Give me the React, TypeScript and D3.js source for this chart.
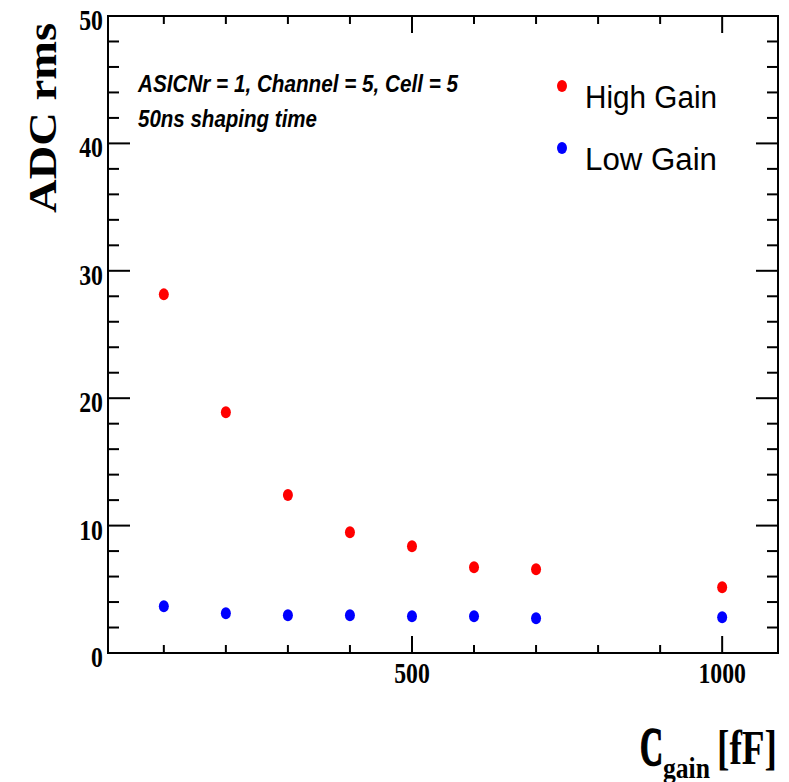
import React, { useRef, useEffect } from 'react';
import * as d3 from 'd3';

const capacitance = [100, 200, 300, 400, 500, 600, 700, 1000];
const highGainRms = [28.15, 18.9, 12.4, 9.47, 8.37, 6.73, 6.57, 5.16];
const lowGainRms = [3.67, 3.12, 2.96, 2.96, 2.88, 2.88, 2.72, 2.8];
const xMajorTicks = [500, 1000];
const xMinorTicks = [100, 200, 300, 400, 500, 600, 700, 800, 900, 1000];
const yMajorTicks = [0, 10, 20, 30, 40, 50];
const yMinorTicks = d3.range(0, 51, 2);
const legendItems = [
    { label: 'High Gain', color: '#ff0000' },
    { label: 'Low Gain', color: '#0000ff' },
];

const App = () => {
    const svgRef = useRef(null);

    useEffect(() => {
        drawChart();
    }, []);

    const drawChart = () => {
        const svg = d3.select(svgRef.current);
        svg.selectAll('*').remove();

        const left = 108, right = 778, top = 16, bottom = 653;

        const x = d3.scaleLinear().domain([10, 1090]).range([left, right]);
        const y = d3.scaleLinear().domain([0, 50]).range([bottom, top]);

        const serif = '"Liberation Serif", "Times New Roman", serif';
        const sans = '"Liberation Sans", Arial, sans-serif';

        const g = svg.append('g');

        // ticks on all four sides, like ROOT
        const tick = (x1, y1, x2, y2) => g.append('line')
            .attr('x1', x1).attr('y1', y1).attr('x2', x2).attr('y2', y2)
            .attr('stroke', '#000').attr('stroke-width', 2);

        xMinorTicks.forEach(v => {
            const len = xMajorTicks.includes(v) ? 17 : 8;
            tick(x(v), bottom, x(v), bottom - len);
            tick(x(v), top, x(v), top + len);
        });
        yMinorTicks.forEach(v => {
            const len = yMajorTicks.includes(v) ? 22 : 11;
            tick(left, y(v), left + len, y(v));
            tick(right, y(v), right - len, y(v));
        });

        // frame
        g.append('rect')
            .attr('x', left).attr('y', top)
            .attr('width', right - left).attr('height', bottom - top)
            .attr('fill', 'none').attr('stroke', '#000').attr('stroke-width', 2);

        // tick labels
        g.selectAll('.ylab')
            .data(yMajorTicks)
            .enter().append('text')
            .attr('class', 'ylab')
            .attr('transform', d => `translate(${left - 5},${y(d) + 14}) scale(0.82,1)`)
            .attr('text-anchor', 'end')
            .style('font-family', serif)
            .style('font-weight', 'bold')
            .style('font-size', '29px')
            .text(d => d);

        g.selectAll('.xlab')
            .data(xMajorTicks)
            .enter().append('text')
            .attr('class', 'xlab')
            .attr('transform', d => `translate(${x(d)},${bottom + 30}) scale(0.82,1)`)
            .attr('text-anchor', 'middle')
            .style('font-family', serif)
            .style('font-weight', 'bold')
            .style('font-size', '29px')
            .text(d => d);

        // axis titles
        g.append('text')
            .attr('transform', 'translate(56,118) rotate(-90)')
            .attr('text-anchor', 'middle')
            .attr('textLength', 190)
            .attr('lengthAdjust', 'spacingAndGlyphs')
            .style('font-family', serif)
            .style('font-weight', 'bold')
            .style('font-size', '40px')
            .text('ADC rms');

        const titleX = (tx, ty, size, len, str) => g.append('text')
            .attr('x', tx).attr('y', ty)
            .attr('textLength', len).attr('lengthAdjust', 'spacingAndGlyphs')
            .style('font-family', serif).style('font-weight', 'bold')
            .style('font-size', size)
            .text(str);
        titleX(640, 765, '54px', 23, 'C')
            .attr('stroke', '#000').attr('stroke-width', 1.6);
        titleX(663, 778, '30px', 47, 'gain');
        titleX(717, 764, '48px', 60, '[fF]');

        // annotation
        g.append('text')
            .attr('x', 138).attr('y', 92)
            .attr('textLength', 320).attr('lengthAdjust', 'spacingAndGlyphs')
            .style('font-family', sans).style('font-weight', 'bold')
            .style('font-style', 'italic').style('font-size', '24px')
            .text('ASICNr = 1, Channel = 5, Cell = 5');
        g.append('text')
            .attr('x', 138).attr('y', 127)
            .attr('textLength', 179).attr('lengthAdjust', 'spacingAndGlyphs')
            .style('font-family', sans).style('font-weight', 'bold')
            .style('font-style', 'italic').style('font-size', '24px')
            .text('50ns shaping time');

        // legend
        const legend = g.selectAll('.legend')
            .data(legendItems)
            .enter().append('g')
            .attr('class', 'legend')
            .attr('transform', (d, i) => `translate(0,${i * 62})`);
        legend.append('ellipse')
            .attr('cx', 562).attr('cy', 86)
            .attr('rx', 5).attr('ry', 6)
            .attr('fill', d => d.color);
        legend.append('text')
            .attr('x', 585).attr('y', 108)
            .attr('textLength', 132).attr('lengthAdjust', 'spacingAndGlyphs')
            .style('font-family', sans).style('font-size', '31px')
            .text(d => d.label);

        // data points
        const series = [
            { values: highGainRms, color: '#ff0000' },
            { values: lowGainRms, color: '#0000ff' },
        ];
        series.forEach(s => {
            g.append('g').selectAll('ellipse')
                .data(capacitance.map((c, i) => ({ c, v: s.values[i] })))
                .enter().append('ellipse')
                .attr('cx', d => x(d.c))
                .attr('cy', d => y(d.v))
                .attr('rx', 5).attr('ry', 6)
                .attr('fill', s.color);
        });
    };

    return (
        <svg ref={svgRef} width={789} height={782} style={{ position: 'absolute', left: 0, top: 0, background: '#fff' }}></svg>
    );
};

export default App;
